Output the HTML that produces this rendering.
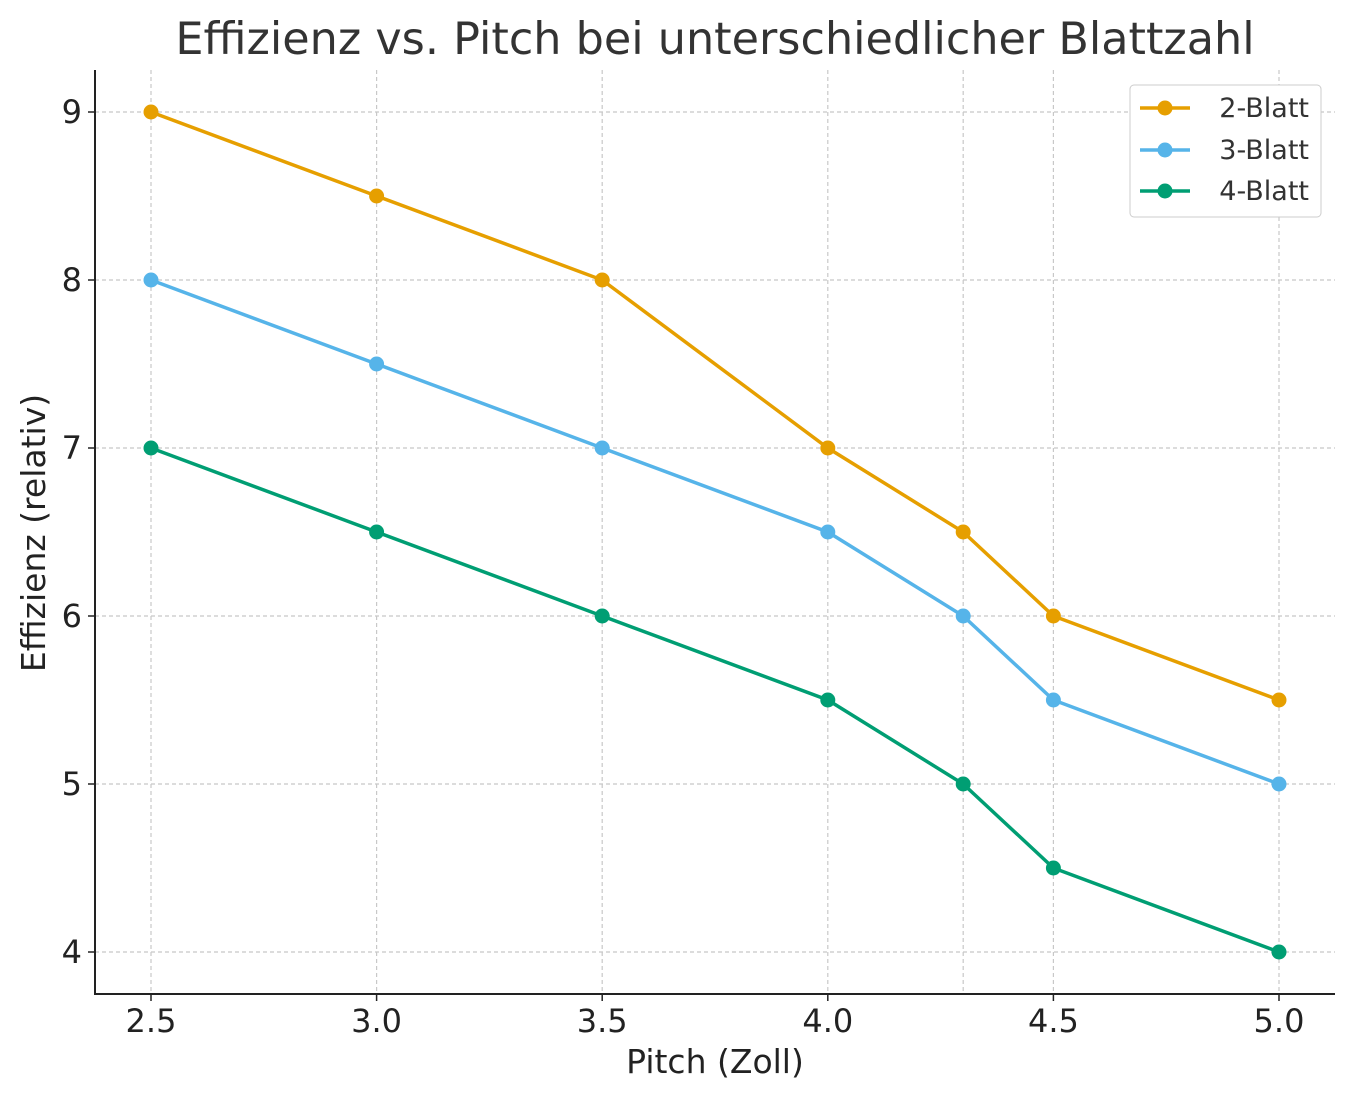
<!DOCTYPE html>
<html><head><meta charset="utf-8"><style>body{margin:0;background:#fff}svg{display:block}</style></head><body>
<svg width="1355" height="1101" xmlns="http://www.w3.org/2000/svg" font-family="DejaVu Sans, Liberation Sans, sans-serif">
<rect width="1355" height="1101" fill="#fff"/>
<g stroke="#c8c8c8" stroke-width="1.2" stroke-dasharray="4,3">
<line x1="151" y1="70" x2="151" y2="994"/><line x1="376.6" y1="70" x2="376.6" y2="994"/><line x1="602.2" y1="70" x2="602.2" y2="994"/><line x1="827.8" y1="70" x2="827.8" y2="994"/><line x1="963.2" y1="70" x2="963.2" y2="994"/><line x1="1053.4" y1="70" x2="1053.4" y2="994"/><line x1="1279" y1="70" x2="1279" y2="994"/>
<line x1="95" y1="112" x2="1335" y2="112"/><line x1="95" y1="280" x2="1335" y2="280"/><line x1="95" y1="448" x2="1335" y2="448"/><line x1="95" y1="616" x2="1335" y2="616"/><line x1="95" y1="784" x2="1335" y2="784"/><line x1="95" y1="952" x2="1335" y2="952"/>
</g>
<g fill="none" stroke-width="3.5">
<polyline stroke="#e69f00" points="151,112 376.6,196 602.2,280 827.8,448 963.2,532 1053.4,616 1279,700"/>
<polyline stroke="#56b4e9" points="151,280 376.6,364 602.2,448 827.8,532 963.2,616 1053.4,700 1279,784"/>
<polyline stroke="#009e73" points="151,448 376.6,532 602.2,616 827.8,700 963.2,784 1053.4,868 1279,952"/>
</g>
<g fill="#e69f00"><circle cx="151" cy="112" r="7.5"/><circle cx="376.6" cy="196" r="7.5"/><circle cx="602.2" cy="280" r="7.5"/><circle cx="827.8" cy="448" r="7.5"/><circle cx="963.2" cy="532" r="7.5"/><circle cx="1053.4" cy="616" r="7.5"/><circle cx="1279" cy="700" r="7.5"/></g>
<g fill="#56b4e9"><circle cx="151" cy="280" r="7.5"/><circle cx="376.6" cy="364" r="7.5"/><circle cx="602.2" cy="448" r="7.5"/><circle cx="827.8" cy="532" r="7.5"/><circle cx="963.2" cy="616" r="7.5"/><circle cx="1053.4" cy="700" r="7.5"/><circle cx="1279" cy="784" r="7.5"/></g>
<g fill="#009e73"><circle cx="151" cy="448" r="7.5"/><circle cx="376.6" cy="532" r="7.5"/><circle cx="602.2" cy="616" r="7.5"/><circle cx="827.8" cy="700" r="7.5"/><circle cx="963.2" cy="784" r="7.5"/><circle cx="1053.4" cy="868" r="7.5"/><circle cx="1279" cy="952" r="7.5"/></g>
<path d="M95,70 V994 H1335" fill="none" stroke="#222" stroke-width="2"/>
<g stroke="#222" stroke-width="1.5">
<line x1="151" y1="994" x2="151" y2="1001"/><line x1="376.6" y1="994" x2="376.6" y2="1001"/><line x1="602.2" y1="994" x2="602.2" y2="1001"/><line x1="827.8" y1="994" x2="827.8" y2="1001"/><line x1="1053.4" y1="994" x2="1053.4" y2="1001"/><line x1="1279" y1="994" x2="1279" y2="1001"/>
<line x1="88" y1="112" x2="95" y2="112"/><line x1="88" y1="280" x2="95" y2="280"/><line x1="88" y1="448" x2="95" y2="448"/><line x1="88" y1="616" x2="95" y2="616"/><line x1="88" y1="784" x2="95" y2="784"/><line x1="88" y1="952" x2="95" y2="952"/>
</g>
<g font-size="32" fill="#222" text-anchor="middle">
<text x="151" y="1032">2.5</text><text x="376.6" y="1032">3.0</text><text x="602.2" y="1032">3.5</text><text x="827.8" y="1032">4.0</text><text x="1053.4" y="1032">4.5</text><text x="1279" y="1032">5.0</text>
</g>
<g font-size="32" fill="#222" text-anchor="end">
<text x="82" y="123">9</text><text x="82" y="291">8</text><text x="82" y="459">7</text><text x="82" y="627">6</text><text x="82" y="795">5</text><text x="82" y="963">4</text>
</g>
<text x="715" y="1073" font-size="33" fill="#222" text-anchor="middle">Pitch (Zoll)</text>
<text transform="translate(45,533) rotate(-90)" font-size="33" fill="#222" text-anchor="middle">Effizienz (relativ)</text>
<text x="715" y="54" font-size="44.5" fill="#333" text-anchor="middle">Effizienz vs. Pitch bei unterschiedlicher Blattzahl</text>
<rect x="1130" y="85" width="191" height="132" rx="4" fill="#fff" stroke="#ccc"/>
<line x1="1140" y1="108" x2="1190" y2="108" stroke="#e69f00" stroke-width="3.5"/><circle cx="1165" cy="108" r="7.5" fill="#e69f00"/>
<line x1="1140" y1="150" x2="1190" y2="150" stroke="#56b4e9" stroke-width="3.5"/><circle cx="1165" cy="150" r="7.5" fill="#56b4e9"/>
<line x1="1140" y1="191" x2="1190" y2="191" stroke="#009e73" stroke-width="3.5"/><circle cx="1165" cy="191" r="7.5" fill="#009e73"/>
<g font-size="27" fill="#333" text-anchor="end"><text x="1309" y="117">2-Blatt</text><text x="1309" y="159">3-Blatt</text><text x="1309" y="200">4-Blatt</text></g>
</svg>
</body></html>
